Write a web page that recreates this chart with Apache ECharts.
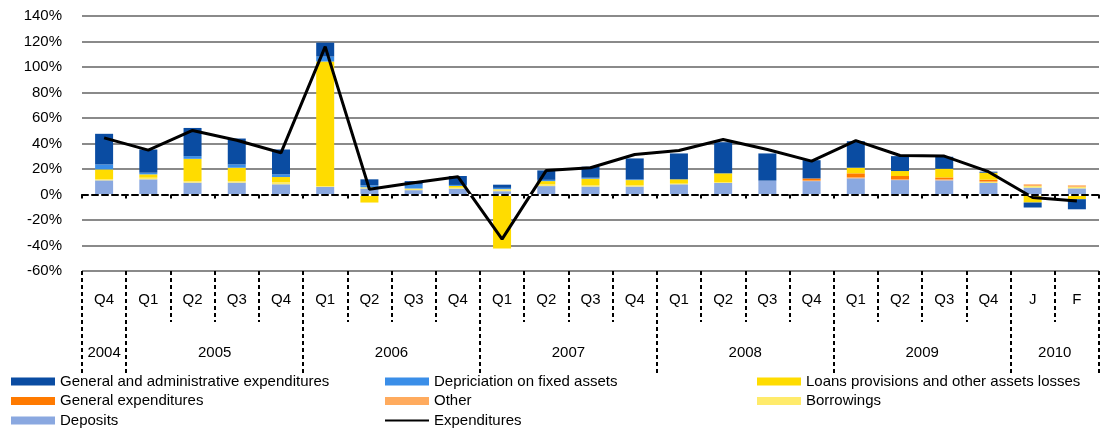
<!DOCTYPE html>
<html>
<head>
<meta charset="utf-8">
<script src="https://cdn.jsdelivr.net/npm/echarts@6/dist/echarts.min.js"></script>
<style>
    html, body { margin: 0; padding: 0; background: #fff; }
    #chart { width: 1109px; height: 429px; }
</style>
</head>
<body>
<div id="chart"></div>
<script>
// quarter row and year row of the category axis
const quarters = ['Q4', 'Q1', 'Q2', 'Q3', 'Q4', 'Q1', 'Q2', 'Q3', 'Q4', 'Q1', 'Q2', 'Q3',
    'Q4', 'Q1', 'Q2', 'Q3', 'Q4', 'Q1', 'Q2', 'Q3', 'Q4', 'J', 'F'];
const years = ['2004', '2005', '2006', '2007', '2008', '2009', '2010'];
const yearSpans = [1, 4, 4, 4, 4, 4, 2];

// values in %
const deposits = [11.1, 11.9, 9.3, 9.3, 8.0, 5.9, 4.7, 3.4, 4.6, 2.6, 6.6, 6.2, 6.2, 8.0, 9.0, 10.9, 10.5, 12.7, 11.3, 11.1, 9.0, 5.4, 4.8];
const borrowings = [1.0, 1.3, 1.2, 1.2, 1.8, 0.5, 1.0, 1.3, 0.8, 1.6, 1.3, 1.0, 1.0, 0.6, 0.8, 0, 0, 0, 0, 0, 0.8, 1.3, 1.2];
const other = [0, 0, 0, 0, 0, 0, 0, 0, 0, 0, 0, 0, 0, 0, 0, 0, 0.5, 0.8, 0.8, 0.8, 0.8, 1.3, 1.2];
const generalExp = [0, 0, 0, 0, 0, 0, 0, 0, 0, 0, 0, 0, 0, 0, 0, 0, 1.6, 3.1, 2.4, 1.5, 1.0, 0, 0];
const loans = [7.6, 2.6, 17.5, 10.5, 3.9, 97.9, -6.3, -1.2, 1.3, -42.3, 2.6, 5.2, 4.1, 3.3, 6.8, -1.2, -1.2, 4.4, 3.9, 6.8, 5.5, -6.3, -3.7];
const depreciation = [3.9, 1.3, 2.1, 2.6, 2.1, 3.9, 1.5, 3.1, 0.8, 1.0, 1.0, 0.8, 0.5, 0, 0, 0, 0, 0, 0, 0, 0, 0, 0];
const generalAdmin = [24.0, 18.2, 22.1, 20.3, 19.5, 10.9, 4.7, 2.7, 7.0, 2.5, 7.4, 8.6, 16.5, 20.3, 24.4, 21.3, 14.3, 20.8, 11.7, 9.4, 0.8, -3.9, -7.9];
const expenditures = [44.4, 34.8, 50.2, 42.6, 32.7, 116, 4.1, 9.3, 14.0, -35, 18.9, 21, 31.4, 34.5, 43.1, 35.3, 26.2, 42.3, 30.6, 30.1, 17.9, -2.4, -5.1];

const font = '"Liberation Sans", Arial, sans-serif';

// year boundaries and label centres on a 0..23 value scale
let yearBounds = [0];
let yearCenters = [];
yearSpans.forEach((s, i) => {
    let start = yearBounds[i];
    yearBounds.push(start + s);
    yearCenters.push(start + s / 2);
});

function bar(name, data, color) {
    return {
        name: name,
        type: 'bar',
        stack: 'total',
        barWidth: 18,
        data: data,
        itemStyle: { color: color },
        emphasis: { disabled: true }
    };
}

function legend(left, names) {
    return {
        left: left,
        top: 374,
        padding: 0,
        orient: 'vertical',
        itemWidth: 44,
        itemHeight: 8,
        itemGap: 4.5,
        selectedMode: false,
        textStyle: { fontFamily: font, fontSize: 15, color: '#000', lineHeight: 15 },
        data: names.map(n => n === 'Expenditures'
            ? { name: n, itemStyle: { opacity: 0, borderWidth: 0 } }
            : { name: n, icon: 'rect' })
    };
}

let series = [
    bar('Deposits', deposits, '#8aa8e0'),
    bar('Borrowings', borrowings, '#ffeb6b'),
    bar('Other', other, '#ffab5e'),
    bar('General expenditures', generalExp, '#ff7a00'),
    bar('Loans provisions and other assets losses', loans, '#ffdc00'),
    bar('Depriciation on fixed assets', depreciation, '#3a8ee8'),
    bar('General and administrative expenditures', generalAdmin, '#0a4ca2'),
    {
        name: 'Expenditures',
        type: 'line',
        data: expenditures,
        symbol: 'none',
        z: 4,
        lineStyle: { color: '#000', width: 3 },
        itemStyle: { color: '#000' },
        emphasis: { disabled: true }
    }
];
// hide the grey 0% gridline under the dashed zero axis
series[0].markLine = {
    silent: true,
    symbol: 'none',
    label: { show: false },
    lineStyle: { color: '#fff', type: 'solid', width: 2 },
    data: [{ yAxis: 0 }]
};

let chart = echarts.init(document.getElementById('chart'));
chart.setOption({
    animation: false,
    grid: { left: 82, right: 10, top: 16, bottom: 158 },
    legend: [
        legend(11, ['General and administrative expenditures', 'General expenditures', 'Deposits']),
        legend(384, ['Depriciation on fixed assets', 'Other', 'Expenditures']),
        legend(757, ['Loans provisions and other assets losses', 'Borrowings'])
    ],
    xAxis: [
        {
            type: 'category',
            data: quarters,
            position: 'bottom',
            z: 5,
            axisLine: { onZero: true, lineStyle: { type: [6, 4], color: '#000', width: 2 } },
            axisTick: { show: true, length: 4, interval: 0, lineStyle: { color: '#000', width: 2 } },
            axisLabel: { show: false }
        },
        {
            type: 'category',
            data: quarters,
            position: 'bottom',
            axisLine: { show: false, onZero: false },
            axisTick: { show: true, length: 51, interval: 0, lineStyle: { type: [4, 3], color: '#000', width: 2 } },
            axisLabel: { interval: 0, margin: 21, fontFamily: font, fontSize: 15, color: '#000' }
        },
        {
            type: 'value',
            min: 0,
            max: quarters.length,
            position: 'bottom',
            axisLine: { show: false, onZero: false },
            splitLine: { show: false },
            axisTick: {
                show: true, length: 104, customValues: yearBounds,
                lineStyle: { type: [4, 3], color: '#000', width: 2 }
            },
            axisLabel: {
                margin: 74, fontFamily: font, fontSize: 15, color: '#000',
                customValues: yearCenters,
                formatter: v => years[yearCenters.indexOf(v)]
            }
        }
    ],
    yAxis: {
        type: 'value',
        min: -60,
        max: 140,
        interval: 20,
        axisLine: { show: false },
        axisTick: { show: false },
        axisLabel: { formatter: '{value}%', margin: 20, fontFamily: font, fontSize: 15, color: '#000' },
        splitLine: { lineStyle: { color: '#8a8a8a', width: 2 } }
    },
    series: series
});
</script>
</body>
</html>
